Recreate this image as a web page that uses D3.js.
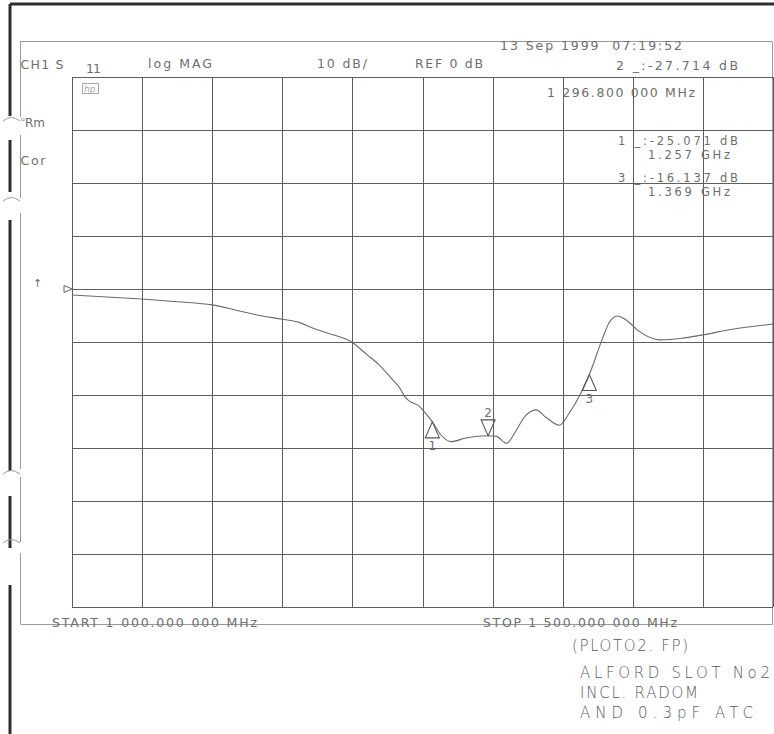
<!DOCTYPE html>
<html>
<head>
<meta charset="utf-8">
<script src="https://cdn.jsdelivr.net/npm/d3@7"></script>
<style>
  body { margin: 0; background: #fff; }
  text { font-family: "DejaVu Sans", sans-serif; fill: #6e6e6e; white-space: pre; }
</style>
</head>
<body>
<div id="chart"></div>
<script>
const width = 774;
const height = 734;

// trace, S11 log magnitude (MHz, dB)
const freqs = [1000, 1025, 1050, 1075, 1100, 1117, 1134, 1150, 1162, 1172, 1182, 1200, 1210, 1219, 1229,
  1233.6, 1237, 1241, 1248, 1250, 1257, 1263, 1270.5, 1281, 1296.8, 1302.7, 1310, 1317, 1322.6, 1331,
  1338, 1347.6, 1354.7, 1363, 1369, 1378, 1383, 1389, 1395, 1404.6, 1419, 1435, 1449, 1471, 1500];
const dB = [-1.13, -1.5, -1.9, -2.4, -3.0, -4.0, -5.0, -5.7, -6.3, -7.4, -8.3, -10.1, -12.3, -14.3, -17.2,
  -18.6, -20.2, -21.2, -22.2, -22.8, -25.07, -27.5, -28.8, -28.1, -27.7, -27.8, -29.1, -26.6, -24.2, -22.8,
  -24.2, -25.7, -23.4, -19.6, -16.14, -9.6, -6.4, -5.1, -5.8, -8.0, -9.6, -9.3, -8.7, -7.6, -6.6];

// markers
const markerIds = ["1", "2", "3"];
const markerFreqs = [1257, 1296.8, 1369];
const markerDB = [-25.071, -27.714, -16.137];

const xTicks = d3.range(1000, 1501, 50);
const yTicks = d3.range(40, -61, -10);

// instrument annotation texts: [text, x, baseline, width, size]
const headerTexts = [
  ["CH1 S", 20.5, 69, 43, 12.5],
  ["11", 86, 73, 15, 12.5],
  ["log MAG", 148, 68, 64, 12.5],
  ["10 dB/", 317, 68, 50, 12.5],
  ["REF 0 dB", 415, 68, 68, 12.5],
  ["13 Sep 1999  07:19:52", 500, 50, 182, 12.5],
  ["2 _:-27.714 dB", 616, 70, 122, 12.5],
  ["1 296.800 000 MHz", 547, 97, 148, 12.5],
  ["1 _:-25.071 dB", 618, 145, 120, 11.5],
  ["1.257 GHz", 648, 159, 82, 11.5],
  ["3 _:-16.137 dB", 618, 182, 120, 11.5],
  ["1.369 GHz", 648, 196, 82, 11.5],
  ["Cor", 20.5, 165, 25, 12.5],
  ["START 1 000.000 000 MHz", 52, 627, 205, 12.5],
  ["STOP 1 500.000 000 MHz", 483, 627, 194, 12.5]
];
// handwritten notes: [text, x, baseline, width]
const notes = [
  ["(PLOTO2. FP)", 572, 651, 116],
  ["ALFORD SLOT No2", 580, 678, 190],
  ["INCL. RADOM", 580, 698, 118],
  ["AND 0.3pF ATC", 580, 718, 173]
];

const x = d3.scaleLinear().domain([1000, 1500]).range([72, 773]);
const y = d3.scaleLinear().domain([40, -60]).range([77, 607]);

const svg = d3.select("#chart").append("svg")
    .attr("width", width)
    .attr("height", height)
    .attr("viewBox", [0, 0, width, height]);

// paper edge (thick) with punched holes
const edge = svg.append("g").attr("stroke", "#2e2e2e").attr("fill", "none");
edge.append("line").attr("x1", 10).attr("x2", 774).attr("y1", 4).attr("y2", 4).attr("stroke-width", 3);
[[4, 116], [140, 192], [220, 471], [496, 548], [585, 734]].forEach(([a, b]) =>
  edge.append("line").attr("x1", 10).attr("x2", 10).attr("y1", a).attr("y2", b).attr("stroke-width", 3));

const thin = svg.append("g").attr("stroke", "#9a9a9a").attr("fill", "none").attr("stroke-width", 1);
[[41, 117], [135, 198], [213, 469], [477, 542], [553, 624]].forEach(([a, b]) =>
  thin.append("line").attr("x1", 20.5).attr("x2", 20.5).attr("y1", a).attr("y2", b));
[118, 198, 471, 540].forEach(v =>
  thin.append("path").attr("d", `M3,${v + 3} Q11,${v - 4} 20,${v + 3}`));

// inner frame
thin.append("path").attr("d", "M20.5,41.5 H772.5 V624.5 H20.5");

// grid
const grid = svg.append("g").attr("stroke", "#5e5e5e").attr("stroke-width", 1);
grid.selectAll(".v").data(xTicks).join("line")
    .attr("x1", d => Math.round(x(d)) + 0.5).attr("x2", d => Math.round(x(d)) + 0.5)
    .attr("y1", y(40)).attr("y2", y(-60));
grid.selectAll(".h").data(yTicks).join("line")
    .attr("y1", d => Math.round(y(d)) + 0.5).attr("y2", d => Math.round(y(d)) + 0.5)
    .attr("x1", x(1000)).attr("x2", x(1500));

// reference level marker
svg.append("path")
    .attr("d", `M64,${y(0) - 3.5} L72,${y(0)} L64,${y(0) + 3.5} Z`)
    .attr("fill", "none").attr("stroke", "#666");
svg.append("text").attr("x", 33).attr("y", 287).attr("font-size", 11).text("↑");

// trace
const pts = freqs.map((f, i) => [f, dB[i]]);
svg.append("path")
    .datum(pts)
    .attr("fill", "none")
    .attr("stroke", "#6a6a6a")
    .attr("stroke-width", 1.1)
    .attr("d", d3.line().x(d => x(d[0])).y(d => y(d[1])).curve(d3.curveMonotoneX));

// markers
markerIds.forEach((id, i) => {
  const mx = x(markerFreqs[i]), my = y(markerDB[i]);
  const down = id === "2";
  const tri = down
    ? `M${mx},${my} L${mx - 7},${my - 16} L${mx + 7},${my - 16} Z`
    : `M${mx},${my} L${mx - 7},${my + 16} L${mx + 7},${my + 16} Z`;
  svg.append("path").attr("d", tri).attr("fill", "none").attr("stroke", "#555").attr("stroke-width", 1.1);
  svg.append("text")
      .attr("x", mx).attr("y", down ? my - 19 : my + 28)
      .attr("text-anchor", "middle").attr("font-size", 12)
      .text(id);
});

// hp logo
svg.append("rect").attr("x", 82.5).attr("y", 83.5).attr("width", 16).attr("height", 10)
    .attr("fill", "none").attr("stroke", "#aaa");
svg.append("text").attr("x", 84).attr("y", 92).attr("font-size", 9).attr("font-style", "italic")
    .style("fill", "#aaa").text("hp");

// DRm
svg.append("text").attr("x", 21).attr("y", 127).attr("font-size", 12)
    .call(t => t.append("tspan").attr("font-size", 8).attr("dy", -3).text("ᴰ"))
    .call(t => t.append("tspan").attr("dy", 3).text("Rm"));

// instrument texts
svg.append("g").selectAll("text").data(headerTexts).join("text")
    .attr("x", d => d[1]).attr("y", d => d[2])
    .attr("font-size", d => d[4])
    .attr("textLength", d => d[3])
    .attr("lengthAdjust", "spacing")
    .text(d => d[0]);

// handwritten notes
svg.append("g").selectAll("text").data(notes).join("text")
    .attr("x", d => d[1]).attr("y", d => d[2])
    .attr("font-size", 15)
    .attr("font-weight", 300)
    .attr("textLength", d => d[3])
    .attr("lengthAdjust", "spacing")
    .style("fill", "#5a5a5a")
    .text(d => d[0]);
</script>
</body>
</html>
